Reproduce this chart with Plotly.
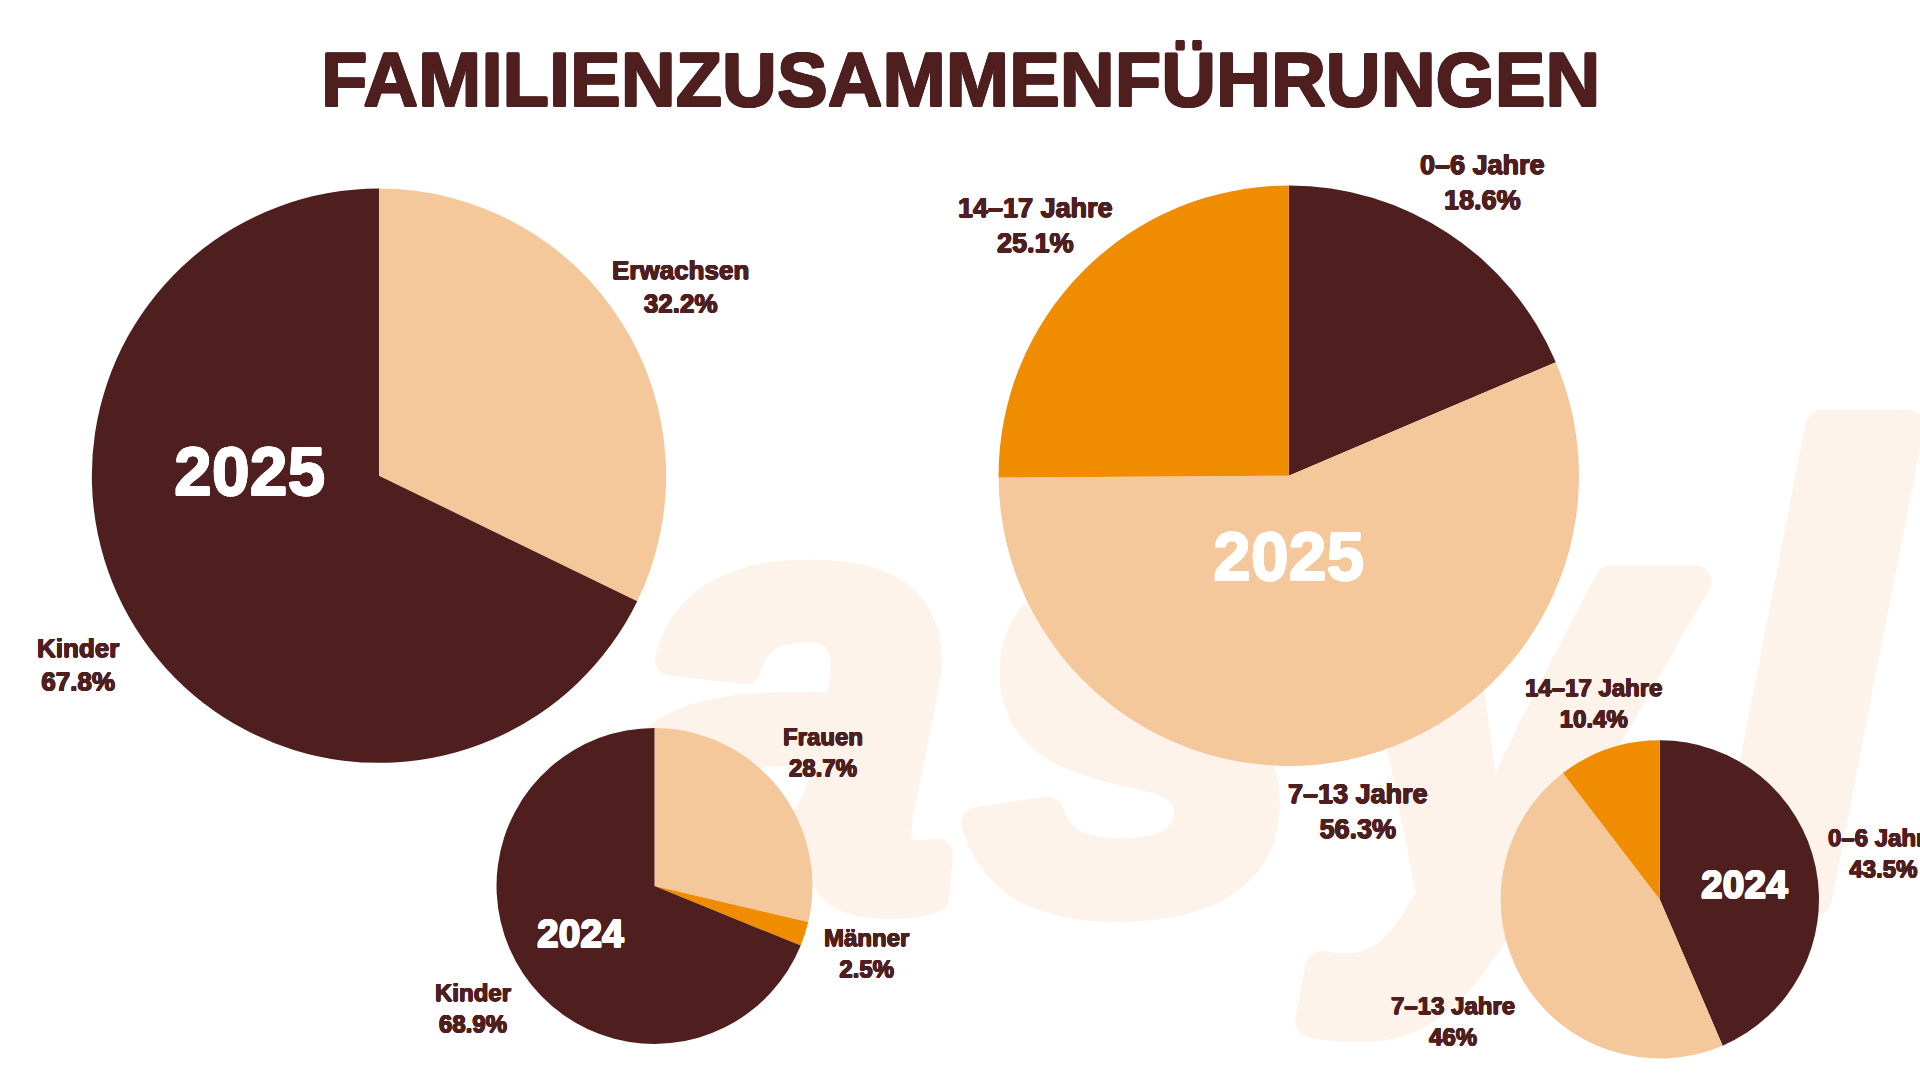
import math

import plotly.graph_objects as go

W = 1920
H = 1080
SCALE = 1920 / 1568

DARK = "#4f1f1f"
PEACH = "#f5c89b"
ORANGE = "#f08c00"
WATERMARK = "#fdf3ea"
FONT = "Liberation Sans"

title = "FAMILIENZUSAMMENFÜHRUNGEN"

adults_2025_labels = ["Erwachsen", "Kinder"]
adults_2025_values = [32.2, 67.8]
adults_2025_colors = [PEACH, DARK]

ages_2025_labels = ["0–6 Jahre", "7–13 Jahre", "14–17 Jahre"]
ages_2025_values = [18.6, 56.3, 25.1]
ages_2025_colors = [DARK, PEACH, ORANGE]

adults_2024_labels = ["Frauen", "Männer", "Kinder"]
adults_2024_values = [28.7, 2.5, 68.9]
adults_2024_colors = [PEACH, ORANGE, DARK]

ages_2024_labels = ["0–6 Jahre", "7–13 Jahre", "14–17 Jahre"]
ages_2024_values = [43.5, 46, 10.4]
ages_2024_colors = [DARK, PEACH, ORANGE]


def px(v):
    return v * SCALE


def heavy(color, w, n=8):
    # plotly has no black weight for these fonts, so fatten the glyphs a little
    parts = []
    for i in range(n):
        a = 2 * math.pi * i / n
        parts.append(f"{w * math.cos(a):.2f}px {w * math.sin(a):.2f}px 0 {color}")
    return ", ".join(parts)


fig = go.Figure()

# cartesian layer sits under the pie layer, so the watermark goes here.
# one point per letter, the original lettering is tighter than this font
fig.add_trace(
    go.Scatter(
        x=[px(643), px(929), px(1228), px(1476)],
        y=[px(612), px(612), px(612), px(602)],
        mode="text",
        text=["a", "s", "y", "l"],
        textposition="middle center",
        textfont=dict(
            family=FONT,
            size=[610, 610, 610, 660],
            color=WATERMARK,
            style="italic",
            weight="bold",
            shadow=heavy(WATERMARK, 14, 24),
        ),
        hoverinfo="skip",
        showlegend=False,
    )
)


def add_pie(labels, values, colors, cx, cy, r):
    fig.add_trace(
        go.Pie(
            labels=labels,
            values=values,
            sort=False,
            direction="clockwise",
            rotation=0,
            textinfo="none",
            hoverinfo="label+value",
            showlegend=False,
            marker=dict(colors=colors, line=dict(width=0)),
            domain=dict(
                x=[(px(cx) - px(r)) / W, (px(cx) + px(r)) / W],
                y=[1 - (px(cy) + px(r)) / H, 1 - (px(cy) - px(r)) / H],
            ),
        )
    )


add_pie(adults_2025_labels, adults_2025_values, adults_2025_colors, 309.5, 388.5, 234.5)
add_pie(ages_2025_labels, ages_2025_values, ages_2025_colors, 1052.5, 388.5, 237)
add_pie(adults_2024_labels, adults_2024_values, adults_2024_colors, 534.5, 723.5, 129)
add_pie(ages_2024_labels, ages_2024_values, ages_2024_colors, 1355.5, 734.5, 130)


def add_label(label, value, x, y, size):
    fig.add_annotation(
        x=px(x),
        y=px(y),
        xref="x",
        yref="y",
        text=f"<b>{label}<br>{value}%</b>",
        showarrow=False,
        align="center",
        font=dict(family=FONT, size=size, color=DARK, shadow=heavy(DARK, 0.5)),
    )


add_label(adults_2025_labels[0], adults_2025_values[0], 556, 234, 26)
add_label(adults_2025_labels[1], adults_2025_values[1], 64, 543, 26)
add_label(ages_2025_labels[0], ages_2025_values[0], 1211, 149, 27)
add_label(ages_2025_labels[1], ages_2025_values[1], 1109, 663, 27)
add_label(ages_2025_labels[2], ages_2025_values[2], 846, 184, 27)
add_label(adults_2024_labels[0], adults_2024_values[0], 672, 614, 24)
add_label(adults_2024_labels[1], adults_2024_values[1], 708, 778, 24)
add_label(adults_2024_labels[2], adults_2024_values[2], 386, 823, 24)
add_label(ages_2024_labels[0], ages_2024_values[0], 1538, 697, 24)
add_label(ages_2024_labels[1], ages_2024_values[1], 1187, 834, 24)
add_label(ages_2024_labels[2], ages_2024_values[2], 1301, 574, 24)

for year, x, y, size in [
    ("2025", 204, 385, 68),
    ("2025", 1052, 454, 68),
    ("2024", 474, 762, 39),
    ("2024", 1425, 722, 39),
]:
    fig.add_annotation(
        x=px(x),
        y=px(y),
        xref="x",
        yref="y",
        text=f"<b>{year}</b>",
        showarrow=False,
        font=dict(family=FONT, size=size, color="white", shadow=heavy("white", 0.8)),
    )

fig.add_annotation(
    x=px(784),
    y=px(65),
    xref="x",
    yref="y",
    text=f"<b>{title}</b>",
    showarrow=False,
    font=dict(family=FONT, size=76, color=DARK, shadow=heavy(DARK, 1)),
)

fig.update_layout(
    width=W,
    height=H,
    margin=dict(l=0, r=0, t=0, b=0),
    paper_bgcolor="white",
    plot_bgcolor="white",
    xaxis=dict(range=[0, W], visible=False, fixedrange=True),
    yaxis=dict(range=[H, 0], visible=False, fixedrange=True),
)

# the page's default body margin would push the figure 8px off
fig.write_html(
    "out.html",
    config=dict(displayModeBar=False),
    post_script="document.body.style.margin='0';document.body.style.overflow='hidden';",
)
